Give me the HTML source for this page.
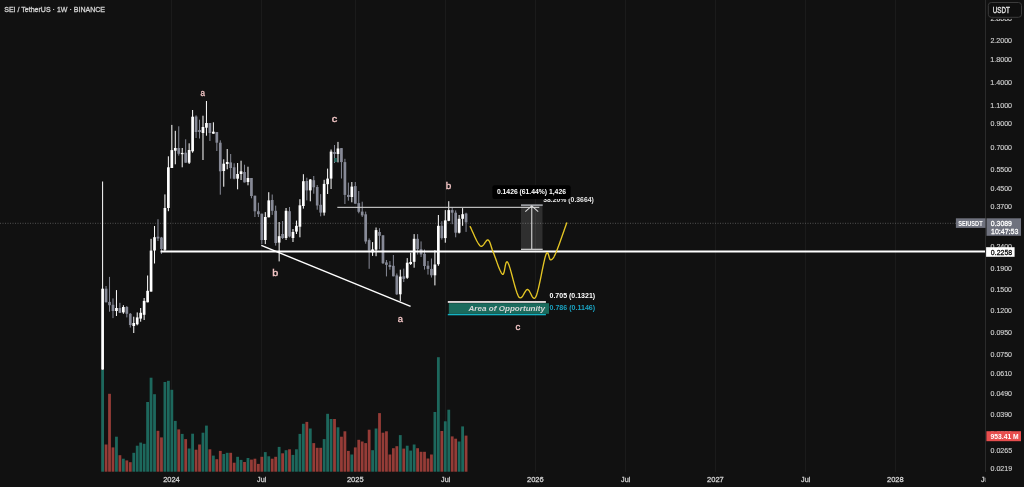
<!DOCTYPE html>
<html><head><meta charset="utf-8">
<style>
html,body{margin:0;padding:0;background:#111111;width:1024px;height:487px;overflow:hidden}
body{position:relative;font-family:"Liberation Sans",sans-serif}
svg{position:absolute;left:0;top:0;will-change:transform}
.t{position:absolute;white-space:nowrap;line-height:1}
</style></head><body>
<svg width="1024" height="487" viewBox="0 0 1024 487">
<rect width="1024" height="487" fill="#111111"/>
<rect x="171.00" y="0" width="1" height="472" fill="#1b1b1b"/>
<rect x="261.00" y="0" width="1" height="472" fill="#1b1b1b"/>
<rect x="355.00" y="0" width="1" height="472" fill="#1b1b1b"/>
<rect x="445.00" y="0" width="1" height="472" fill="#1b1b1b"/>
<rect x="535.00" y="0" width="1" height="472" fill="#1b1b1b"/>
<rect x="625.00" y="0" width="1" height="472" fill="#1b1b1b"/>
<rect x="715.00" y="0" width="1" height="472" fill="#1b1b1b"/>
<rect x="805.00" y="0" width="1" height="472" fill="#1b1b1b"/>
<rect x="895.00" y="0" width="1" height="472" fill="#1b1b1b"/>
<line x1="0" y1="223.3" x2="956" y2="223.3" stroke="#505050" stroke-width="1" stroke-dasharray="1 1.5"/>
<rect x="101.20" y="369.90" width="2.8" height="101.80" fill="#1d685d"/>
<rect x="104.66" y="444.50" width="2.8" height="27.20" fill="#953c37"/>
<rect x="108.12" y="393.80" width="2.8" height="77.90" fill="#953c37"/>
<rect x="111.58" y="447.40" width="2.8" height="24.30" fill="#953c37"/>
<rect x="115.05" y="436.70" width="2.8" height="35.00" fill="#1d685d"/>
<rect x="118.51" y="455.20" width="2.8" height="16.50" fill="#953c37"/>
<rect x="121.97" y="458.70" width="2.8" height="13.00" fill="#1d685d"/>
<rect x="125.43" y="460.40" width="2.8" height="11.30" fill="#953c37"/>
<rect x="128.89" y="462.20" width="2.8" height="9.50" fill="#953c37"/>
<rect x="132.35" y="452.80" width="2.8" height="18.90" fill="#1d685d"/>
<rect x="135.81" y="445.70" width="2.8" height="26.00" fill="#1d685d"/>
<rect x="139.28" y="442.60" width="2.8" height="29.10" fill="#1d685d"/>
<rect x="142.74" y="443.80" width="2.8" height="27.90" fill="#1d685d"/>
<rect x="146.20" y="402.00" width="2.8" height="69.70" fill="#1d685d"/>
<rect x="149.66" y="377.70" width="2.8" height="94.00" fill="#1d685d"/>
<rect x="153.12" y="394.20" width="2.8" height="77.50" fill="#1d685d"/>
<rect x="156.58" y="430.80" width="2.8" height="40.90" fill="#953c37"/>
<rect x="160.05" y="437.40" width="2.8" height="34.30" fill="#953c37"/>
<rect x="163.51" y="382.00" width="2.8" height="89.70" fill="#1d685d"/>
<rect x="166.97" y="380.80" width="2.8" height="90.90" fill="#1d685d"/>
<rect x="170.43" y="389.80" width="2.8" height="81.90" fill="#1d685d"/>
<rect x="173.89" y="420.90" width="2.8" height="50.80" fill="#1d685d"/>
<rect x="177.35" y="429.40" width="2.8" height="42.30" fill="#953c37"/>
<rect x="180.81" y="433.90" width="2.8" height="37.80" fill="#1d685d"/>
<rect x="184.28" y="439.10" width="2.8" height="32.60" fill="#953c37"/>
<rect x="187.74" y="448.50" width="2.8" height="23.20" fill="#1d685d"/>
<rect x="191.20" y="433.70" width="2.8" height="38.00" fill="#1d685d"/>
<rect x="194.66" y="449.70" width="2.8" height="22.00" fill="#953c37"/>
<rect x="198.12" y="444.50" width="2.8" height="27.20" fill="#953c37"/>
<rect x="201.58" y="432.70" width="2.8" height="39.00" fill="#1d685d"/>
<rect x="205.04" y="425.60" width="2.8" height="46.10" fill="#1d685d"/>
<rect x="208.51" y="449.30" width="2.8" height="22.40" fill="#953c37"/>
<rect x="211.97" y="455.60" width="2.8" height="16.10" fill="#1d685d"/>
<rect x="215.43" y="459.20" width="2.8" height="12.50" fill="#953c37"/>
<rect x="218.89" y="450.90" width="2.8" height="20.80" fill="#953c37"/>
<rect x="222.35" y="454.00" width="2.8" height="17.70" fill="#1d685d"/>
<rect x="225.81" y="452.80" width="2.8" height="18.90" fill="#1d685d"/>
<rect x="229.28" y="452.80" width="2.8" height="18.90" fill="#953c37"/>
<rect x="232.74" y="462.70" width="2.8" height="9.00" fill="#953c37"/>
<rect x="236.20" y="456.80" width="2.8" height="14.90" fill="#1d685d"/>
<rect x="239.66" y="459.90" width="2.8" height="11.80" fill="#1d685d"/>
<rect x="243.12" y="462.00" width="2.8" height="9.70" fill="#953c37"/>
<rect x="246.58" y="458.00" width="2.8" height="13.70" fill="#1d685d"/>
<rect x="250.04" y="459.60" width="2.8" height="12.10" fill="#953c37"/>
<rect x="253.51" y="458.70" width="2.8" height="13.00" fill="#953c37"/>
<rect x="256.97" y="463.90" width="2.8" height="7.80" fill="#953c37"/>
<rect x="260.43" y="456.80" width="2.8" height="14.90" fill="#953c37"/>
<rect x="263.89" y="452.10" width="2.8" height="19.60" fill="#1d685d"/>
<rect x="267.35" y="456.30" width="2.8" height="15.40" fill="#1d685d"/>
<rect x="270.81" y="458.70" width="2.8" height="13.00" fill="#953c37"/>
<rect x="274.27" y="456.80" width="2.8" height="14.90" fill="#953c37"/>
<rect x="277.74" y="446.90" width="2.8" height="24.80" fill="#1d685d"/>
<rect x="281.20" y="453.30" width="2.8" height="18.40" fill="#953c37"/>
<rect x="284.66" y="450.20" width="2.8" height="21.50" fill="#1d685d"/>
<rect x="288.12" y="449.30" width="2.8" height="22.40" fill="#953c37"/>
<rect x="291.58" y="454.90" width="2.8" height="16.80" fill="#1d685d"/>
<rect x="295.04" y="449.30" width="2.8" height="22.40" fill="#1d685d"/>
<rect x="298.51" y="433.90" width="2.8" height="37.80" fill="#1d685d"/>
<rect x="301.97" y="423.80" width="2.8" height="47.90" fill="#1d685d"/>
<rect x="305.43" y="421.90" width="2.8" height="49.80" fill="#953c37"/>
<rect x="308.89" y="428.50" width="2.8" height="43.20" fill="#1d685d"/>
<rect x="312.35" y="443.10" width="2.8" height="28.60" fill="#953c37"/>
<rect x="315.81" y="447.80" width="2.8" height="23.90" fill="#953c37"/>
<rect x="319.27" y="447.80" width="2.8" height="23.90" fill="#953c37"/>
<rect x="322.74" y="439.10" width="2.8" height="32.60" fill="#1d685d"/>
<rect x="326.20" y="413.80" width="2.8" height="57.90" fill="#1d685d"/>
<rect x="329.66" y="419.00" width="2.8" height="52.70" fill="#1d685d"/>
<rect x="333.12" y="419.00" width="2.8" height="52.70" fill="#953c37"/>
<rect x="336.58" y="427.30" width="2.8" height="44.40" fill="#1d685d"/>
<rect x="340.04" y="436.70" width="2.8" height="35.00" fill="#953c37"/>
<rect x="343.50" y="431.30" width="2.8" height="40.40" fill="#953c37"/>
<rect x="346.97" y="450.90" width="2.8" height="20.80" fill="#953c37"/>
<rect x="350.43" y="454.50" width="2.8" height="17.20" fill="#1d685d"/>
<rect x="353.89" y="447.40" width="2.8" height="24.30" fill="#953c37"/>
<rect x="357.35" y="439.80" width="2.8" height="31.90" fill="#953c37"/>
<rect x="360.81" y="441.50" width="2.8" height="30.20" fill="#953c37"/>
<rect x="364.27" y="443.10" width="2.8" height="28.60" fill="#953c37"/>
<rect x="367.74" y="429.70" width="2.8" height="42.00" fill="#953c37"/>
<rect x="371.20" y="450.20" width="2.8" height="21.50" fill="#1d685d"/>
<rect x="374.66" y="428.50" width="2.8" height="43.20" fill="#1d685d"/>
<rect x="378.12" y="413.10" width="2.8" height="58.60" fill="#953c37"/>
<rect x="381.58" y="432.70" width="2.8" height="39.00" fill="#953c37"/>
<rect x="385.04" y="431.30" width="2.8" height="40.40" fill="#953c37"/>
<rect x="388.50" y="454.50" width="2.8" height="17.20" fill="#953c37"/>
<rect x="391.97" y="448.20" width="2.8" height="23.50" fill="#953c37"/>
<rect x="395.43" y="446.20" width="2.8" height="25.50" fill="#953c37"/>
<rect x="398.89" y="435.10" width="2.8" height="36.60" fill="#1d685d"/>
<rect x="402.35" y="448.60" width="2.8" height="23.10" fill="#953c37"/>
<rect x="405.81" y="445.70" width="2.8" height="26.00" fill="#1d685d"/>
<rect x="409.27" y="450.60" width="2.8" height="21.10" fill="#1d685d"/>
<rect x="412.74" y="444.50" width="2.8" height="27.20" fill="#1d685d"/>
<rect x="416.20" y="448.20" width="2.8" height="23.50" fill="#953c37"/>
<rect x="419.66" y="451.80" width="2.8" height="19.90" fill="#953c37"/>
<rect x="423.12" y="451.80" width="2.8" height="19.90" fill="#953c37"/>
<rect x="426.58" y="458.50" width="2.8" height="13.20" fill="#953c37"/>
<rect x="430.04" y="454.50" width="2.8" height="17.20" fill="#953c37"/>
<rect x="433.50" y="412.00" width="2.8" height="59.70" fill="#1d685d"/>
<rect x="436.97" y="357.20" width="2.8" height="114.50" fill="#1d685d"/>
<rect x="440.43" y="431.00" width="2.8" height="40.70" fill="#953c37"/>
<rect x="443.89" y="421.30" width="2.8" height="50.40" fill="#1d685d"/>
<rect x="447.35" y="409.70" width="2.8" height="62.00" fill="#1d685d"/>
<rect x="450.81" y="436.40" width="2.8" height="35.30" fill="#953c37"/>
<rect x="454.27" y="438.70" width="2.8" height="33.00" fill="#953c37"/>
<rect x="457.73" y="441.50" width="2.8" height="30.20" fill="#1d685d"/>
<rect x="461.20" y="426.40" width="2.8" height="45.30" fill="#1d685d"/>
<rect x="464.66" y="435.60" width="2.8" height="36.10" fill="#953c37"/>
<rect x="102.10" y="181.50" width="1" height="188.10" fill="#ffffff"/>
<rect x="101.25" y="288.70" width="2.7" height="80.90" fill="#ffffff"/>
<rect x="105.56" y="286.00" width="1" height="16.30" fill="#878a97"/>
<rect x="104.71" y="288.70" width="2.7" height="13.60" fill="#878a97"/>
<rect x="109.02" y="276.90" width="1" height="34.80" fill="#878a97"/>
<rect x="108.17" y="301.90" width="2.7" height="3.30" fill="#878a97"/>
<rect x="112.48" y="298.40" width="1" height="19.70" fill="#878a97"/>
<rect x="111.63" y="304.80" width="2.7" height="6.20" fill="#878a97"/>
<rect x="115.95" y="290.10" width="1" height="25.90" fill="#ffffff"/>
<rect x="115.10" y="308.00" width="2.7" height="3.00" fill="#ffffff"/>
<rect x="119.41" y="302.80" width="1" height="10.20" fill="#878a97"/>
<rect x="118.56" y="308.00" width="2.7" height="4.80" fill="#878a97"/>
<rect x="122.87" y="305.20" width="1" height="8.60" fill="#ffffff"/>
<rect x="122.02" y="307.00" width="2.7" height="5.40" fill="#ffffff"/>
<rect x="126.33" y="306.00" width="1" height="11.40" fill="#878a97"/>
<rect x="125.48" y="307.00" width="2.7" height="6.80" fill="#878a97"/>
<rect x="129.79" y="313.00" width="1" height="14.50" fill="#878a97"/>
<rect x="128.94" y="313.80" width="2.7" height="11.20" fill="#878a97"/>
<rect x="133.25" y="316.70" width="1" height="16.30" fill="#ffffff"/>
<rect x="132.40" y="323.00" width="2.7" height="3.00" fill="#ffffff"/>
<rect x="136.72" y="312.40" width="1" height="12.90" fill="#ffffff"/>
<rect x="135.87" y="317.40" width="2.7" height="6.90" fill="#ffffff"/>
<rect x="140.18" y="308.00" width="1" height="13.70" fill="#ffffff"/>
<rect x="139.33" y="312.80" width="2.7" height="5.80" fill="#ffffff"/>
<rect x="143.64" y="298.00" width="1" height="22.00" fill="#ffffff"/>
<rect x="142.79" y="300.90" width="2.7" height="13.90" fill="#ffffff"/>
<rect x="147.10" y="275.50" width="1" height="26.80" fill="#ffffff"/>
<rect x="146.25" y="290.80" width="2.7" height="11.50" fill="#ffffff"/>
<rect x="150.56" y="238.80" width="1" height="52.80" fill="#ffffff"/>
<rect x="149.71" y="250.60" width="2.7" height="41.00" fill="#ffffff"/>
<rect x="154.02" y="226.00" width="1" height="37.50" fill="#ffffff"/>
<rect x="153.17" y="237.20" width="2.7" height="13.30" fill="#ffffff"/>
<rect x="157.48" y="219.20" width="1" height="21.80" fill="#878a97"/>
<rect x="156.63" y="236.70" width="2.7" height="1.80" fill="#878a97"/>
<rect x="160.95" y="236.90" width="1" height="17.10" fill="#878a97"/>
<rect x="160.10" y="237.50" width="2.7" height="11.50" fill="#878a97"/>
<rect x="164.41" y="194.40" width="1" height="57.60" fill="#ffffff"/>
<rect x="163.56" y="208.00" width="2.7" height="41.80" fill="#ffffff"/>
<rect x="167.87" y="156.30" width="1" height="54.90" fill="#ffffff"/>
<rect x="167.02" y="167.30" width="2.7" height="40.70" fill="#ffffff"/>
<rect x="171.33" y="124.90" width="1" height="43.10" fill="#ffffff"/>
<rect x="170.48" y="150.10" width="2.7" height="17.90" fill="#ffffff"/>
<rect x="174.79" y="130.80" width="1" height="33.50" fill="#ffffff"/>
<rect x="173.94" y="148.00" width="2.7" height="2.70" fill="#ffffff"/>
<rect x="178.25" y="126.30" width="1" height="29.30" fill="#878a97"/>
<rect x="177.40" y="148.00" width="2.7" height="5.80" fill="#878a97"/>
<rect x="181.71" y="148.00" width="1" height="19.30" fill="#ffffff"/>
<rect x="180.86" y="152.90" width="2.7" height="1.30" fill="#ffffff"/>
<rect x="185.18" y="139.30" width="1" height="23.40" fill="#878a97"/>
<rect x="184.33" y="152.70" width="2.7" height="10.00" fill="#878a97"/>
<rect x="188.64" y="143.30" width="1" height="20.70" fill="#ffffff"/>
<rect x="187.79" y="150.00" width="2.7" height="12.70" fill="#ffffff"/>
<rect x="192.10" y="110.00" width="1" height="42.70" fill="#ffffff"/>
<rect x="191.25" y="116.70" width="2.7" height="34.60" fill="#ffffff"/>
<rect x="195.56" y="115.30" width="1" height="22.70" fill="#878a97"/>
<rect x="194.71" y="116.50" width="2.7" height="15.50" fill="#878a97"/>
<rect x="199.02" y="119.70" width="1" height="18.80" fill="#878a97"/>
<rect x="198.17" y="130.00" width="2.7" height="2.00" fill="#878a97"/>
<rect x="202.48" y="115.70" width="1" height="44.30" fill="#ffffff"/>
<rect x="201.63" y="127.00" width="2.7" height="6.00" fill="#ffffff"/>
<rect x="205.94" y="101.00" width="1" height="34.70" fill="#ffffff"/>
<rect x="205.09" y="123.00" width="2.7" height="4.70" fill="#ffffff"/>
<rect x="209.41" y="123.00" width="1" height="18.00" fill="#878a97"/>
<rect x="208.56" y="123.00" width="2.7" height="10.00" fill="#878a97"/>
<rect x="212.87" y="122.30" width="1" height="11.40" fill="#ffffff"/>
<rect x="212.02" y="131.70" width="2.7" height="2.00" fill="#ffffff"/>
<rect x="216.33" y="132.00" width="1" height="19.00" fill="#878a97"/>
<rect x="215.48" y="132.00" width="2.7" height="10.70" fill="#878a97"/>
<rect x="219.79" y="140.30" width="1" height="54.40" fill="#878a97"/>
<rect x="218.94" y="142.70" width="2.7" height="28.60" fill="#878a97"/>
<rect x="223.25" y="159.30" width="1" height="27.40" fill="#ffffff"/>
<rect x="222.40" y="163.70" width="2.7" height="7.30" fill="#ffffff"/>
<rect x="226.71" y="149.00" width="1" height="20.30" fill="#ffffff"/>
<rect x="225.86" y="162.00" width="2.7" height="2.00" fill="#ffffff"/>
<rect x="230.18" y="154.00" width="1" height="24.70" fill="#878a97"/>
<rect x="229.33" y="162.40" width="2.7" height="5.60" fill="#878a97"/>
<rect x="233.64" y="163.30" width="1" height="16.00" fill="#878a97"/>
<rect x="232.79" y="167.30" width="2.7" height="11.40" fill="#878a97"/>
<rect x="237.10" y="163.00" width="1" height="26.30" fill="#ffffff"/>
<rect x="236.25" y="174.00" width="2.7" height="4.70" fill="#ffffff"/>
<rect x="240.56" y="160.70" width="1" height="19.30" fill="#ffffff"/>
<rect x="239.71" y="171.30" width="2.7" height="2.70" fill="#ffffff"/>
<rect x="244.02" y="164.70" width="1" height="17.70" fill="#878a97"/>
<rect x="243.17" y="172.00" width="2.7" height="10.40" fill="#878a97"/>
<rect x="247.48" y="166.70" width="1" height="18.60" fill="#ffffff"/>
<rect x="246.63" y="178.00" width="2.7" height="4.00" fill="#ffffff"/>
<rect x="250.94" y="178.00" width="1" height="20.30" fill="#878a97"/>
<rect x="250.09" y="178.00" width="2.7" height="18.00" fill="#878a97"/>
<rect x="254.41" y="195.70" width="1" height="21.30" fill="#878a97"/>
<rect x="253.56" y="195.70" width="2.7" height="15.60" fill="#878a97"/>
<rect x="257.87" y="202.70" width="1" height="14.30" fill="#878a97"/>
<rect x="257.02" y="211.30" width="2.7" height="2.90" fill="#878a97"/>
<rect x="261.33" y="213.70" width="1" height="30.40" fill="#878a97"/>
<rect x="260.48" y="213.70" width="2.7" height="26.30" fill="#878a97"/>
<rect x="264.79" y="212.10" width="1" height="32.00" fill="#ffffff"/>
<rect x="263.94" y="217.00" width="2.7" height="23.00" fill="#ffffff"/>
<rect x="268.25" y="192.20" width="1" height="25.10" fill="#ffffff"/>
<rect x="267.40" y="200.40" width="2.7" height="16.90" fill="#ffffff"/>
<rect x="271.71" y="194.50" width="1" height="20.40" fill="#878a97"/>
<rect x="270.86" y="200.00" width="2.7" height="10.80" fill="#878a97"/>
<rect x="275.17" y="205.60" width="1" height="40.00" fill="#878a97"/>
<rect x="274.32" y="210.80" width="2.7" height="32.20" fill="#878a97"/>
<rect x="278.64" y="222.00" width="1" height="39.40" fill="#ffffff"/>
<rect x="277.79" y="236.20" width="2.7" height="6.40" fill="#ffffff"/>
<rect x="282.10" y="221.00" width="1" height="18.00" fill="#878a97"/>
<rect x="281.25" y="234.00" width="2.7" height="4.00" fill="#878a97"/>
<rect x="285.56" y="208.00" width="1" height="32.00" fill="#ffffff"/>
<rect x="284.71" y="210.80" width="2.7" height="27.20" fill="#ffffff"/>
<rect x="289.02" y="207.00" width="1" height="30.40" fill="#878a97"/>
<rect x="288.17" y="211.20" width="2.7" height="25.30" fill="#878a97"/>
<rect x="292.48" y="229.00" width="1" height="13.00" fill="#ffffff"/>
<rect x="291.63" y="232.00" width="2.7" height="6.00" fill="#ffffff"/>
<rect x="295.94" y="220.60" width="1" height="13.40" fill="#ffffff"/>
<rect x="295.09" y="225.80" width="2.7" height="5.80" fill="#ffffff"/>
<rect x="299.41" y="199.20" width="1" height="38.10" fill="#ffffff"/>
<rect x="298.56" y="205.30" width="2.7" height="21.40" fill="#ffffff"/>
<rect x="302.87" y="174.20" width="1" height="34.40" fill="#ffffff"/>
<rect x="302.02" y="181.20" width="2.7" height="24.80" fill="#ffffff"/>
<rect x="306.33" y="177.70" width="1" height="22.70" fill="#878a97"/>
<rect x="305.48" y="181.00" width="2.7" height="9.40" fill="#878a97"/>
<rect x="309.79" y="179.00" width="1" height="22.30" fill="#ffffff"/>
<rect x="308.94" y="179.50" width="2.7" height="10.90" fill="#ffffff"/>
<rect x="313.25" y="176.00" width="1" height="17.70" fill="#878a97"/>
<rect x="312.40" y="180.20" width="2.7" height="7.10" fill="#878a97"/>
<rect x="316.71" y="185.00" width="1" height="24.70" fill="#878a97"/>
<rect x="315.86" y="187.00" width="2.7" height="18.50" fill="#878a97"/>
<rect x="320.17" y="194.10" width="1" height="22.20" fill="#878a97"/>
<rect x="319.32" y="204.80" width="2.7" height="7.80" fill="#878a97"/>
<rect x="323.64" y="179.80" width="1" height="35.80" fill="#ffffff"/>
<rect x="322.79" y="183.90" width="2.7" height="28.70" fill="#ffffff"/>
<rect x="327.10" y="168.60" width="1" height="25.40" fill="#ffffff"/>
<rect x="326.25" y="178.60" width="2.7" height="5.60" fill="#ffffff"/>
<rect x="330.56" y="149.50" width="1" height="39.50" fill="#ffffff"/>
<rect x="329.71" y="151.60" width="2.7" height="27.00" fill="#ffffff"/>
<rect x="334.02" y="145.00" width="1" height="18.00" fill="#878a97"/>
<rect x="333.17" y="152.00" width="2.7" height="2.00" fill="#878a97"/>
<rect x="337.48" y="141.90" width="1" height="20.50" fill="#ffffff"/>
<rect x="336.63" y="148.50" width="2.7" height="5.50" fill="#ffffff"/>
<rect x="340.94" y="148.10" width="1" height="30.40" fill="#878a97"/>
<rect x="340.09" y="148.10" width="2.7" height="14.00" fill="#878a97"/>
<rect x="344.40" y="158.80" width="1" height="45.20" fill="#878a97"/>
<rect x="343.55" y="162.10" width="2.7" height="32.80" fill="#878a97"/>
<rect x="347.87" y="182.60" width="1" height="18.10" fill="#878a97"/>
<rect x="347.02" y="194.90" width="2.7" height="2.10" fill="#878a97"/>
<rect x="351.33" y="182.00" width="1" height="20.30" fill="#ffffff"/>
<rect x="350.48" y="186.60" width="2.7" height="10.40" fill="#ffffff"/>
<rect x="354.79" y="182.00" width="1" height="21.70" fill="#878a97"/>
<rect x="353.94" y="186.10" width="2.7" height="17.60" fill="#878a97"/>
<rect x="358.25" y="191.00" width="1" height="22.30" fill="#878a97"/>
<rect x="357.40" y="203.10" width="2.7" height="8.70" fill="#878a97"/>
<rect x="361.71" y="201.70" width="1" height="15.30" fill="#878a97"/>
<rect x="360.86" y="211.60" width="2.7" height="3.80" fill="#878a97"/>
<rect x="365.17" y="211.60" width="1" height="32.10" fill="#878a97"/>
<rect x="364.32" y="214.30" width="2.7" height="27.20" fill="#878a97"/>
<rect x="368.64" y="238.40" width="1" height="30.40" fill="#878a97"/>
<rect x="367.79" y="240.10" width="2.7" height="10.50" fill="#878a97"/>
<rect x="372.10" y="242.10" width="1" height="13.80" fill="#ffffff"/>
<rect x="371.25" y="249.40" width="2.7" height="2.90" fill="#ffffff"/>
<rect x="375.56" y="227.50" width="1" height="28.70" fill="#ffffff"/>
<rect x="374.71" y="230.10" width="2.7" height="19.60" fill="#ffffff"/>
<rect x="379.02" y="228.20" width="1" height="21.10" fill="#878a97"/>
<rect x="378.17" y="232.00" width="2.7" height="3.80" fill="#878a97"/>
<rect x="382.48" y="235.30" width="1" height="28.70" fill="#878a97"/>
<rect x="381.63" y="235.30" width="2.7" height="27.90" fill="#878a97"/>
<rect x="385.94" y="260.00" width="1" height="16.40" fill="#878a97"/>
<rect x="385.09" y="262.40" width="2.7" height="2.50" fill="#878a97"/>
<rect x="389.40" y="261.10" width="1" height="8.60" fill="#878a97"/>
<rect x="388.55" y="265.00" width="2.7" height="2.00" fill="#878a97"/>
<rect x="392.87" y="255.00" width="1" height="21.30" fill="#878a97"/>
<rect x="392.02" y="265.80" width="2.7" height="10.50" fill="#878a97"/>
<rect x="396.33" y="273.50" width="1" height="21.50" fill="#878a97"/>
<rect x="395.48" y="275.40" width="2.7" height="18.90" fill="#878a97"/>
<rect x="399.79" y="269.70" width="1" height="31.60" fill="#ffffff"/>
<rect x="398.94" y="276.60" width="2.7" height="17.70" fill="#ffffff"/>
<rect x="403.25" y="268.60" width="1" height="13.40" fill="#878a97"/>
<rect x="402.40" y="276.30" width="2.7" height="2.60" fill="#878a97"/>
<rect x="406.71" y="258.10" width="1" height="20.80" fill="#ffffff"/>
<rect x="405.86" y="262.70" width="2.7" height="15.10" fill="#ffffff"/>
<rect x="410.17" y="252.70" width="1" height="12.30" fill="#ffffff"/>
<rect x="409.32" y="262.00" width="2.7" height="2.00" fill="#ffffff"/>
<rect x="413.63" y="234.10" width="1" height="33.60" fill="#ffffff"/>
<rect x="412.78" y="238.80" width="2.7" height="23.00" fill="#ffffff"/>
<rect x="417.10" y="234.10" width="1" height="20.40" fill="#878a97"/>
<rect x="416.25" y="238.80" width="2.7" height="10.40" fill="#878a97"/>
<rect x="420.56" y="241.40" width="1" height="15.60" fill="#878a97"/>
<rect x="419.71" y="249.20" width="2.7" height="5.20" fill="#878a97"/>
<rect x="424.02" y="249.50" width="1" height="20.10" fill="#878a97"/>
<rect x="423.17" y="253.80" width="2.7" height="12.20" fill="#878a97"/>
<rect x="427.48" y="261.00" width="1" height="13.60" fill="#878a97"/>
<rect x="426.63" y="265.70" width="2.7" height="3.20" fill="#878a97"/>
<rect x="430.94" y="258.50" width="1" height="19.00" fill="#878a97"/>
<rect x="430.09" y="268.90" width="2.7" height="6.40" fill="#878a97"/>
<rect x="434.40" y="250.20" width="1" height="35.20" fill="#ffffff"/>
<rect x="433.55" y="264.50" width="2.7" height="10.80" fill="#ffffff"/>
<rect x="437.87" y="215.00" width="1" height="50.80" fill="#ffffff"/>
<rect x="437.02" y="225.80" width="2.7" height="38.40" fill="#ffffff"/>
<rect x="441.33" y="221.20" width="1" height="18.40" fill="#878a97"/>
<rect x="440.48" y="225.80" width="2.7" height="12.30" fill="#878a97"/>
<rect x="444.79" y="210.10" width="1" height="32.60" fill="#ffffff"/>
<rect x="443.94" y="220.40" width="2.7" height="17.70" fill="#ffffff"/>
<rect x="448.25" y="201.20" width="1" height="20.00" fill="#ffffff"/>
<rect x="447.40" y="210.10" width="2.7" height="10.70" fill="#ffffff"/>
<rect x="451.71" y="207.00" width="1" height="17.20" fill="#878a97"/>
<rect x="450.86" y="210.10" width="2.7" height="2.60" fill="#878a97"/>
<rect x="455.17" y="210.40" width="1" height="26.90" fill="#878a97"/>
<rect x="454.32" y="212.70" width="2.7" height="20.00" fill="#878a97"/>
<rect x="458.63" y="215.00" width="1" height="18.50" fill="#ffffff"/>
<rect x="457.78" y="218.80" width="2.7" height="13.90" fill="#ffffff"/>
<rect x="462.10" y="208.10" width="1" height="17.70" fill="#ffffff"/>
<rect x="461.25" y="214.20" width="2.7" height="4.60" fill="#ffffff"/>
<rect x="465.56" y="212.70" width="1" height="19.20" fill="#878a97"/>
<rect x="464.71" y="213.50" width="2.7" height="8.80" fill="#878a97"/>
<rect x="334.3" y="158" width="2.6" height="4" fill="#1d6258"/>
<rect x="160.5" y="250.5" width="826" height="2" fill="#ffffff"/>
<rect x="337.3" y="206.8" width="202" height="1.1" fill="#cfcfcf"/>
<line x1="261.3" y1="245.4" x2="410.6" y2="306.4" stroke="#ffffff" stroke-width="1.4"/>
<rect x="521" y="205" width="21.5" height="44.5" fill="#ffffff" fill-opacity="0.13"/>
<rect x="521" y="204.4" width="21.7" height="1.4" fill="#b4b6bc"/>
<rect x="521" y="248.7" width="21.7" height="1.3" fill="#c4c4c4"/>
<rect x="531.2" y="205.5" width="1.1" height="43.5" fill="#d8d8d8"/>
<polyline points="525.3,211.6 531.75,205.9 538.2,211.6" fill="none" stroke="#d8d8d8" stroke-width="1.1"/>
<path d="M470.20,226.60 L470.70,227.62 L471.33,229.00 L472.07,230.68 L472.90,232.57 L473.81,234.59 L474.76,236.67 L475.74,238.73 L476.73,240.70 L477.70,242.48 L478.63,244.01 L479.51,245.21 L480.30,246.00 L481.04,246.33 L481.76,246.26 L482.47,245.85 L483.17,245.20 L483.84,244.36 L484.51,243.43 L485.15,242.47 L485.78,241.57 L486.39,240.79 L486.98,240.22 L487.55,239.93 L488.10,240.00 L488.61,240.36 L489.07,240.91 L489.49,241.61 L489.88,242.45 L490.25,243.43 L490.61,244.51 L490.98,245.70 L491.37,246.96 L491.78,248.29 L492.23,249.66 L492.73,251.07 L493.30,252.50 L493.94,254.10 L494.65,255.99 L495.41,258.09 L496.22,260.33 L497.05,262.64 L497.90,264.93 L498.75,267.14 L499.58,269.19 L500.39,271.01 L501.15,272.52 L501.86,273.64 L502.50,274.30 L503.05,274.34 L503.53,273.72 L503.94,272.58 L504.31,271.08 L504.65,269.34 L504.98,267.50 L505.32,265.71 L505.68,264.10 L506.08,262.82 L506.54,261.99 L507.07,261.78 L507.70,262.30 L508.43,263.69 L509.24,265.86 L510.12,268.66 L511.05,271.94 L512.03,275.54 L513.03,279.31 L514.05,283.10 L515.06,286.75 L516.06,290.11 L517.02,293.02 L517.94,295.34 L518.80,296.90 L519.61,297.71 L520.39,297.93 L521.15,297.66 L521.89,297.00 L522.62,296.04 L523.33,294.90 L524.02,293.66 L524.72,292.43 L525.41,291.29 L526.10,290.36 L526.80,289.73 L527.50,289.50 L528.20,289.76 L528.88,290.45 L529.56,291.48 L530.23,292.72 L530.89,294.06 L531.56,295.39 L532.23,296.60 L532.91,297.58 L533.60,298.21 L534.31,298.38 L535.04,297.98 L535.80,296.90 L536.60,294.95 L537.45,292.15 L538.35,288.66 L539.27,284.65 L540.20,280.30 L541.13,275.77 L542.05,271.23 L542.94,266.86 L543.80,262.82 L544.60,259.28 L545.34,256.42 L546.00,254.40 L546.58,253.22 L547.08,252.69 L547.52,252.70 L547.92,253.16 L548.27,253.94 L548.60,254.96 L548.91,256.09 L549.21,257.24 L549.53,258.31 L549.85,259.17 L550.21,259.74 L550.60,259.90 L551.01,259.81 L551.39,259.67 L551.77,259.47 L552.14,259.21 L552.52,258.85 L552.92,258.39 L553.33,257.80 L553.78,257.08 L554.26,256.21 L554.78,255.16 L555.36,253.93 L556.00,252.50 L556.74,250.72 L557.60,248.52 L558.55,245.99 L559.57,243.21 L560.62,240.28 L561.69,237.29 L562.73,234.32 L563.73,231.47 L564.65,228.82 L565.47,226.47 L566.17,224.50 L566.70,223.00" fill="none" stroke="#e4c524" stroke-width="1.35" stroke-linejoin="round" stroke-linecap="round"/>
<rect x="447.8" y="301" width="98.1" height="1.9" fill="#ddd6d6"/>
<rect x="448.8" y="303.2" width="100.2" height="10.6" fill="#1b6b5d"/>
<rect x="447.8" y="313.9" width="98.1" height="1.4" fill="#14b3c4"/>
<text transform="matrix(1.0989,0,0,1,468.462,310.900)" font-family="'Liberation Sans', sans-serif" font-size="7.391" font-weight="bold" font-style="italic" fill="#d6d6d6">Area of Opportunity</text>
<text transform="matrix(0.9787,0,0,1,549.519,297.528)" font-family="'Liberation Sans', sans-serif" font-size="7.183" font-weight="bold" font-style="normal" fill="#ffffff">0.705 (0.1321)</text>
<text transform="matrix(0.9500,0,0,1,549.516,310.125)" font-family="'Liberation Sans', sans-serif" font-size="7.465" font-weight="bold" font-style="normal" fill="#1aa3c2">0.786 (0.1146)</text>
<text transform="matrix(0.9519,0,0,1,200.532,96.366)" font-family="'Liberation Sans', sans-serif" font-size="8.364" font-weight="normal" font-style="normal" fill="#f4c7c7" stroke="#f4c7c7" stroke-width="0.3">a</text>
<text transform="matrix(1.3193,0,0,1,331.809,121.766)" font-family="'Liberation Sans', sans-serif" font-size="8.364" font-weight="normal" font-style="normal" fill="#f4c7c7" stroke="#f4c7c7" stroke-width="0.3">c</text>
<text transform="matrix(1.0352,0,0,1,445.800,189.453)" font-family="'Liberation Sans', sans-serif" font-size="9.660" font-weight="normal" font-style="normal" fill="#f4c7c7" stroke="#f4c7c7" stroke-width="0.3">b</text>
<text transform="matrix(1.1945,0,0,1,272.342,276.359)" font-family="'Liberation Sans', sans-serif" font-size="9.116" font-weight="normal" font-style="normal" fill="#f4c7c7" stroke="#f4c7c7" stroke-width="0.3">b</text>
<text transform="matrix(1.0252,0,0,1,397.677,321.759)" font-family="'Liberation Sans', sans-serif" font-size="9.091" font-weight="normal" font-style="normal" fill="#f4c7c7" stroke="#f4c7c7" stroke-width="0.3">a</text>
<text transform="matrix(1.1544,0,0,1,515.464,329.766)" font-family="'Liberation Sans', sans-serif" font-size="8.364" font-weight="normal" font-style="normal" fill="#f4c7c7" stroke="#f4c7c7" stroke-width="0.3">c</text>
<text transform="matrix(0.9169,0,0,1,543.229,202.325)" font-family="'Liberation Sans', sans-serif" font-size="7.465" font-weight="bold" font-style="normal" fill="#e6e6e6">38.20% (0.3664)</text>
<rect x="492.4" y="185.3" width="78.2" height="13.6" rx="2" fill="#000000"/>
<text transform="matrix(0.9099,0,0,1,496.928,194.025)" font-family="'Liberation Sans', sans-serif" font-size="7.465" font-weight="bold" font-style="normal" fill="#ffffff">0.1426 (61.44%) 1,426</text>
<rect x="985.5" y="0" width="38.5" height="487" fill="#111111"/>
<rect x="985" y="0" width="1" height="472" fill="#2b2b2b"/>
<text transform="matrix(0.9134,0,0,1,990.446,21.056)" font-family="'Liberation Sans', sans-serif" font-size="7.746" font-weight="normal" font-style="normal" fill="#d0d0d0" stroke="#d0d0d0" stroke-width="0.15">2.8000</text>
<text transform="matrix(0.9134,0,0,1,990.446,43.421)" font-family="'Liberation Sans', sans-serif" font-size="7.746" font-weight="normal" font-style="normal" fill="#d0d0d0" stroke="#d0d0d0" stroke-width="0.15">2.2000</text>
<text transform="matrix(0.9211,0,0,1,990.265,62.031)" font-family="'Liberation Sans', sans-serif" font-size="7.746" font-weight="normal" font-style="normal" fill="#d0d0d0" stroke="#d0d0d0" stroke-width="0.15">1.8000</text>
<text transform="matrix(0.9211,0,0,1,990.265,85.338)" font-family="'Liberation Sans', sans-serif" font-size="7.746" font-weight="normal" font-style="normal" fill="#d0d0d0" stroke="#d0d0d0" stroke-width="0.15">1.4000</text>
<text transform="matrix(0.9211,0,0,1,990.265,107.703)" font-family="'Liberation Sans', sans-serif" font-size="7.746" font-weight="normal" font-style="normal" fill="#d0d0d0" stroke="#d0d0d0" stroke-width="0.15">1.1000</text>
<text transform="matrix(0.9103,0,0,1,990.518,126.314)" font-family="'Liberation Sans', sans-serif" font-size="7.746" font-weight="normal" font-style="normal" fill="#d0d0d0" stroke="#d0d0d0" stroke-width="0.15">0.9000</text>
<text transform="matrix(0.9103,0,0,1,990.518,149.621)" font-family="'Liberation Sans', sans-serif" font-size="7.746" font-weight="normal" font-style="normal" fill="#d0d0d0" stroke="#d0d0d0" stroke-width="0.15">0.7000</text>
<text transform="matrix(0.9103,0,0,1,990.518,171.986)" font-family="'Liberation Sans', sans-serif" font-size="7.746" font-weight="normal" font-style="normal" fill="#d0d0d0" stroke="#d0d0d0" stroke-width="0.15">0.5500</text>
<text transform="matrix(0.9103,0,0,1,990.518,190.596)" font-family="'Liberation Sans', sans-serif" font-size="7.746" font-weight="normal" font-style="normal" fill="#d0d0d0" stroke="#d0d0d0" stroke-width="0.15">0.4500</text>
<text transform="matrix(0.9103,0,0,1,990.518,208.749)" font-family="'Liberation Sans', sans-serif" font-size="7.746" font-weight="normal" font-style="normal" fill="#d0d0d0" stroke="#d0d0d0" stroke-width="0.15">0.3700</text>
<text transform="matrix(0.9103,0,0,1,990.518,248.893)" font-family="'Liberation Sans', sans-serif" font-size="7.746" font-weight="normal" font-style="normal" fill="#d0d0d0" stroke="#d0d0d0" stroke-width="0.15">0.2400</text>
<text transform="matrix(0.9103,0,0,1,990.518,270.559)" font-family="'Liberation Sans', sans-serif" font-size="7.746" font-weight="normal" font-style="normal" fill="#d0d0d0" stroke="#d0d0d0" stroke-width="0.15">0.1900</text>
<text transform="matrix(0.9103,0,0,1,990.518,292.481)" font-family="'Liberation Sans', sans-serif" font-size="7.746" font-weight="normal" font-style="normal" fill="#d0d0d0" stroke="#d0d0d0" stroke-width="0.15">0.1500</text>
<text transform="matrix(0.9103,0,0,1,990.518,313.176)" font-family="'Liberation Sans', sans-serif" font-size="7.746" font-weight="normal" font-style="normal" fill="#d0d0d0" stroke="#d0d0d0" stroke-width="0.15">0.1200</text>
<text transform="matrix(0.9103,0,0,1,990.518,334.841)" font-family="'Liberation Sans', sans-serif" font-size="7.746" font-weight="normal" font-style="normal" fill="#d0d0d0" stroke="#d0d0d0" stroke-width="0.15">0.0950</text>
<text transform="matrix(0.9103,0,0,1,990.518,356.764)" font-family="'Liberation Sans', sans-serif" font-size="7.746" font-weight="normal" font-style="normal" fill="#d0d0d0" stroke="#d0d0d0" stroke-width="0.15">0.0750</text>
<text transform="matrix(0.9103,0,0,1,990.518,375.925)" font-family="'Liberation Sans', sans-serif" font-size="7.746" font-weight="normal" font-style="normal" fill="#d0d0d0" stroke="#d0d0d0" stroke-width="0.15">0.0610</text>
<text transform="matrix(0.9103,0,0,1,990.518,396.240)" font-family="'Liberation Sans', sans-serif" font-size="7.746" font-weight="normal" font-style="normal" fill="#d0d0d0" stroke="#d0d0d0" stroke-width="0.15">0.0490</text>
<text transform="matrix(0.9103,0,0,1,990.518,417.409)" font-family="'Liberation Sans', sans-serif" font-size="7.746" font-weight="normal" font-style="normal" fill="#d0d0d0" stroke="#d0d0d0" stroke-width="0.15">0.0390</text>
<text transform="matrix(0.9103,0,0,1,990.518,435.755)" font-family="'Liberation Sans', sans-serif" font-size="7.746" font-weight="normal" font-style="normal" fill="#d0d0d0" stroke="#d0d0d0" stroke-width="0.15">0.0320</text>
<text transform="matrix(0.9119,0,0,1,990.517,453.245)" font-family="'Liberation Sans', sans-serif" font-size="7.746" font-weight="normal" font-style="normal" fill="#d0d0d0" stroke="#d0d0d0" stroke-width="0.15">0.0265</text>
<text transform="matrix(0.9134,0,0,1,990.517,470.927)" font-family="'Liberation Sans', sans-serif" font-size="7.746" font-weight="normal" font-style="normal" fill="#d0d0d0" stroke="#d0d0d0" stroke-width="0.15">0.0219</text>
<rect x="986" y="0" width="38" height="18.9" fill="#111111"/>
<rect x="988.3" y="2.5" width="33.2" height="14.8" rx="3" fill="#0f0f0f" stroke="#3b3b3b" stroke-width="1"/>
<text transform="matrix(0.7673,0,0,1,992.731,12.619)" font-family="'Liberation Sans', sans-serif" font-size="8.143" font-weight="normal" font-style="normal" fill="#e0e0e0" stroke="#e0e0e0" stroke-width="0.35">USDT</text>
<rect x="955.9" y="218.3" width="29.6" height="9.6" fill="#6f727e"/>
<text transform="matrix(0.7366,0,0,1,958.130,226.000)" font-family="'Liberation Sans', sans-serif" font-size="7.681" font-weight="bold" font-style="normal" fill="#ffffff">SEIUSDT</text>
<rect x="986.5" y="218.3" width="34.5" height="17.5" fill="#6f727e"/>
<text transform="matrix(1.0242,0,0,1,990.823,225.932)" font-family="'Liberation Sans', sans-serif" font-size="6.761" font-weight="normal" font-style="normal" fill="#ffffff" stroke="#ffffff" stroke-width="0.25">0.3089</text>
<text transform="matrix(0.9404,0,0,1,991.074,233.925)" font-family="'Liberation Sans', sans-serif" font-size="7.465" font-weight="normal" font-style="normal" fill="#ffffff" stroke="#ffffff" stroke-width="0.25">10:47:53</text>
<rect x="986.1" y="247.2" width="28.5" height="9.6" fill="#ffffff"/>
<text transform="matrix(0.9350,0,0,1,990.821,254.725)" font-family="'Liberation Sans', sans-serif" font-size="7.465" font-weight="normal" font-style="normal" fill="#000000" stroke="#000000" stroke-width="0.25">0.2258</text>
<rect x="986.4" y="431.2" width="34.6" height="10" fill="#e84e4e"/>
<text transform="matrix(0.8862,0,0,1,990.564,438.724)" font-family="'Liberation Sans', sans-serif" font-size="7.606" font-weight="bold" font-style="normal" fill="#ffffff">953.41 M</text>
<text transform="matrix(0.9993,0,0,1,163.127,482.225)" font-family="'Liberation Sans', sans-serif" font-size="7.465" font-weight="normal" font-style="normal" fill="#d0d0d0" stroke="#d0d0d0" stroke-width="0.3">2024</text>
<text transform="matrix(0.9505,0,0,1,257.092,482.224)" font-family="'Liberation Sans', sans-serif" font-size="7.571" font-weight="normal" font-style="normal" fill="#d0d0d0" stroke="#d0d0d0" stroke-width="0.3">Jul</text>
<text transform="matrix(1.0039,0,0,1,346.925,482.225)" font-family="'Liberation Sans', sans-serif" font-size="7.465" font-weight="normal" font-style="normal" fill="#d0d0d0" stroke="#d0d0d0" stroke-width="0.3">2025</text>
<text transform="matrix(0.9505,0,0,1,441.092,482.224)" font-family="'Liberation Sans', sans-serif" font-size="7.571" font-weight="normal" font-style="normal" fill="#d0d0d0" stroke="#d0d0d0" stroke-width="0.3">Jul</text>
<text transform="matrix(1.0039,0,0,1,527.025,482.225)" font-family="'Liberation Sans', sans-serif" font-size="7.465" font-weight="normal" font-style="normal" fill="#d0d0d0" stroke="#d0d0d0" stroke-width="0.3">2026</text>
<text transform="matrix(0.9505,0,0,1,621.092,482.224)" font-family="'Liberation Sans', sans-serif" font-size="7.571" font-weight="normal" font-style="normal" fill="#d0d0d0" stroke="#d0d0d0" stroke-width="0.3">Jul</text>
<text transform="matrix(1.0087,0,0,1,707.024,482.225)" font-family="'Liberation Sans', sans-serif" font-size="7.465" font-weight="normal" font-style="normal" fill="#d0d0d0" stroke="#d0d0d0" stroke-width="0.3">2027</text>
<text transform="matrix(0.9505,0,0,1,801.092,482.224)" font-family="'Liberation Sans', sans-serif" font-size="7.571" font-weight="normal" font-style="normal" fill="#d0d0d0" stroke="#d0d0d0" stroke-width="0.3">Jul</text>
<text transform="matrix(1.0039,0,0,1,887.025,482.225)" font-family="'Liberation Sans', sans-serif" font-size="7.465" font-weight="normal" font-style="normal" fill="#d0d0d0" stroke="#d0d0d0" stroke-width="0.3">2028</text>
<text transform="matrix(0.9505,0,0,1,980.892,482.224)" font-family="'Liberation Sans', sans-serif" font-size="7.571" font-weight="normal" font-style="normal" fill="#d0d0d0" stroke="#d0d0d0" stroke-width="0.3">Jul</text>
<rect x="985.5" y="472" width="38.5" height="15" fill="#111111"/>
<text transform="matrix(0.9195,0,0,1,4.182,12.000)" font-family="'Liberation Sans', sans-serif" font-size="7.681" font-weight="normal" font-style="normal" fill="#d2d2d2" stroke="#d2d2d2" stroke-width="0.3">SEI / TetherUS · 1W · BINANCE</text>
</svg>
</body></html>
